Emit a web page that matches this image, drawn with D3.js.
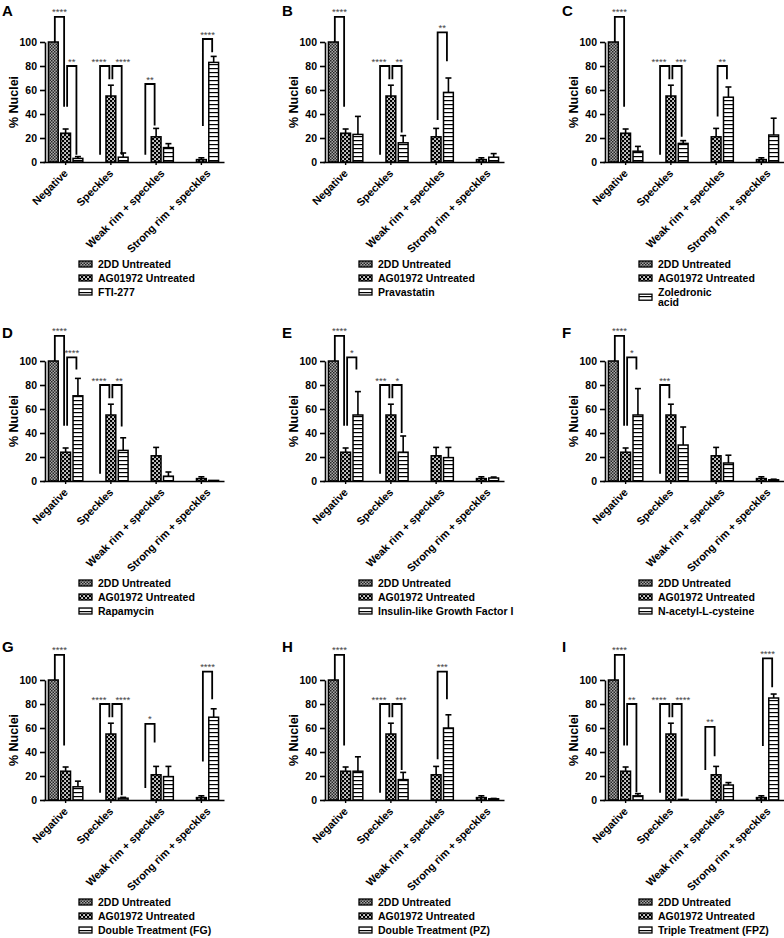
<!DOCTYPE html>
<html><head><meta charset="utf-8">
<script src="https://cdn.jsdelivr.net/npm/d3@7"></script>
<style>
body{margin:0;background:#fff}
text{font-family:"Liberation Sans",Arial,Helvetica,sans-serif;}
</style>
</head><body><script>
// ---------- data ----------
const categories = ["Negative","Speckles","Weak rim + speckles","Strong rim + speckles"];
const yTicks = [0,20,40,60,80,100];
const panelLetters = ["A","B","C","D","E","F","G","H","I"];
const seriesNames = ["2DD Untreated","AG01972 Untreated"];
const treatmentNames = ["FTI-277","Pravastatin","Zoledronic\nacid","Rapamycin","Insulin-like Growth Factor I","N-acetyl-L-cysteine","Double Treatment (FG)","Double Treatment (PZ)","Triple Treatment (FPZ)"];

const untreated2DD    = [100,0,0,0];
const untreated2DDErr = [0,0,0,0];
const untreatedAG     = [24,55,21,2];
const untreatedAGErr  = [3.5,9,7,1.5];

const fti277 = [3,4,12,83];          const fti277Err = [1.5,3.5,3.3,5];
const pravastatin = [23,16,58,4];    const pravastatinErr = [15,6,12,3];
const zoledronic = [9,15.5,54,22.5]; const zoledronicErr = [4,2.3,8.5,14];
const rapamycin = [71,25.5,4,0.5];   const rapamycinErr = [14.5,10.5,3.5,0];
const igf1 = [55,24,19.5,2.5];       const igf1Err = [19.5,13.5,8.5,0.8];
const nac = [55,30,15,1];            const nacErr = [22,15,6.5,0.5];
const doubleFG = [11,1.5,19.5,69];   const doubleFGErr = [4.7,0.7,8.5,7];
const doublePZ = [24,17,60,1];       const doublePZErr = [12,6,11,0.3];
const tripleFPZ = [3.5,0.5,12.5,85]; const tripleFPZErr = [1.8,0,2,3.3];

// significance brackets: [category, seriesA, seriesB, top, legA end, legB end, label]
const bracketsA = [[0,0,1,121,100,46,"****"],[0,1,2,80,46,6,"**"],[1,0,1,80,6,69,"****"],[1,1,2,80,69,6,"****"],[2,0,1,65,6,30.5,"**"],[3,1,2,102.5,30,91.5,"****"]];
const bracketsB = [[0,0,1,121,100,46,"****"],[1,0,1,80,6,69,"****"],[1,1,2,80,69,24.5,"**"],[2,1,2,108,35,84,"**"]];
const bracketsC = [[0,0,1,121,100,46,"****"],[1,0,1,80,6,69,"****"],[1,1,2,80,69,21,"***"],[2,1,2,80,38,69,"**"]];
const bracketsD = [[0,0,1,121,100,46,"****"],[0,1,2,103,46,93,"****"],[1,0,1,80,6,69,"****"],[1,1,2,80,69,45.5,"**"]];
const bracketsE = [[0,0,1,121,100,46,"****"],[0,1,2,103,46,93,"*"],[1,0,1,80,6,69,"***"],[1,1,2,80,69,40,"*"]];
const bracketsF = [[0,0,1,121,100,46,"****"],[0,1,2,103,46,93,"*"],[1,0,1,80,6,69,"***"]];
const bracketsG = [[0,0,1,121,100,45.5,"****"],[1,0,1,80,6,69,"****"],[1,1,2,80,69,4,"****"],[2,0,1,63.5,10,48,"*"],[3,1,2,107,32,84,"****"]];
const bracketsH = [[0,0,1,121,100,45.5,"****"],[1,0,1,80,6,69,"****"],[1,1,2,80,69,25,"***"],[2,1,2,107,34,84,"***"]];
const bracketsI = [[0,0,1,121,100,45.5,"****"],[0,1,2,80,45.5,6.5,"**"],[1,0,1,80,6,69,"****"],[1,1,2,80,69,3,"****"],[2,0,1,61,25,36.5,"**"],[3,1,2,118,45,94,"****"]];

const treatValues = [fti277,pravastatin,zoledronic,rapamycin,igf1,nac,doubleFG,doublePZ,tripleFPZ];
const treatErrors = [fti277Err,pravastatinErr,zoledronicErr,rapamycinErr,igf1Err,nacErr,doubleFGErr,doublePZErr,tripleFPZErr];
const panelBrackets = [bracketsA,bracketsB,bracketsC,bracketsD,bracketsE,bracketsF,bracketsG,bracketsH,bracketsI];

// ---------- layout ----------
const colX = [45, 325, 605];
const rowZero = [162, 481, 800];
const letterBase = [16, 338, 652];
const FONT = '"Liberation Sans",Arial,sans-serif';

const svg = d3.select("body").append("svg").attr("width",784).attr("height",938)
  .style("background","#fff");
svg.append("rect").attr("width",784).attr("height",938).attr("fill","#fff");

const defs = svg.append("defs");
const p0 = defs.append("pattern").attr("id","pat0").attr("patternUnits","userSpaceOnUse").attr("width",3).attr("height",3);
p0.append("rect").attr("width",3).attr("height",3).attr("fill","#a8a8a8");
p0.append("rect").attr("width",1.5).attr("height",1.5).attr("fill","#262626");
p0.append("rect").attr("x",1.5).attr("y",1.5).attr("width",1.5).attr("height",1.5).attr("fill","#262626");
const p1 = defs.append("pattern").attr("id","pat1").attr("patternUnits","userSpaceOnUse").attr("width",4).attr("height",4);
p1.append("rect").attr("width",4).attr("height",4).attr("fill","#000");
p1.append("rect").attr("x",0.2).attr("y",0.2).attr("width",1.7).attr("height",1.7).attr("fill","#fff");
p1.append("rect").attr("x",2.2).attr("y",2.2).attr("width",1.7).attr("height",1.7).attr("fill","#fff");
const p2 = defs.append("pattern").attr("id","pat2").attr("patternUnits","userSpaceOnUse").attr("width",4).attr("height",4);
p2.append("rect").attr("width",4).attr("height",4).attr("fill","#fff");
p2.append("rect").attr("y",0).attr("width",4).attr("height",1.2).attr("fill","#000");
const patFill = ["url(#pat0)","url(#pat1)","url(#pat2)"];

function drawPanel(pi){
  const col = pi % 3, row = Math.floor(pi/3);
  const ax = colX[col], zy = rowZero[row];
  const g = svg.append("g");
  const x = d3.scaleBand().domain(categories).range([ax-2, ax+179]);
  const sub = d3.scalePoint().domain([0,1,2]).range([-12.3, 12.3]);
  const y = d3.scaleLinear().domain([0,100]).range([zy, zy-120]);
  const vals = [untreated2DD, untreatedAG, treatValues[pi]];
  const errs = [untreated2DDErr, untreatedAGErr, treatErrors[pi]];
  const cx = (ci, si) => x(categories[ci]) + x.bandwidth()/2 + sub(si);
  const bw = 9.8;

  vals.forEach((arr, si) => arr.forEach((v, ci) => {
    const e = errs[si][ci];
    if (!(e > 0) || v <= 0) return;
    const c = cx(ci, si);
    g.append("line").attr("x1",c).attr("x2",c).attr("y1",y(v)).attr("y2",y(v+e))
      .attr("stroke","#000").attr("stroke-width",1.6);
    g.append("line").attr("x1",c-3).attr("x2",c+3).attr("y1",y(v+e)).attr("y2",y(v+e))
      .attr("stroke","#000").attr("stroke-width",1.6);
  }));
  vals.forEach((arr, si) => arr.forEach((v, ci) => {
    if (v <= 0) return;
    const c = cx(ci, si);
    g.append("rect").attr("x", c - bw/2).attr("y", y(v)).attr("width", bw)
      .attr("height", Math.max(0.01, y(0) - y(v)))
      .attr("fill", patFill[si]).attr("stroke","#000").attr("stroke-width",1.5);
  }));

  const ya = g.append("g").attr("transform",`translate(${ax},0)`)
    .call(d3.axisLeft(y).tickValues(yTicks).tickSize(5).tickSizeOuter(0).tickPadding(3));
  ya.select(".domain").attr("stroke-width",1.6);
  ya.selectAll(".tick line").attr("stroke-width",1.6);
  ya.selectAll("text").attr("font-family",FONT).attr("font-weight","bold").attr("font-size",10.5).attr("fill","#000");

  const xa = g.append("g").attr("transform",`translate(0,${zy})`)
    .call(d3.axisBottom(x).tickSize(3).tickSizeOuter(0));
  xa.select(".domain").attr("stroke-width",1.6);
  xa.selectAll(".tick line").attr("stroke-width",1.4);
  xa.selectAll("text").attr("font-family",FONT).attr("font-weight","bold").attr("font-size",10.8).attr("fill","#000")
    .attr("text-anchor","end").attr("x",0).attr("y",0).attr("dy",0)
    .each(function(){
      const L = this.getComputedTextLength();
      const dx = 0.1*L - 1.5;
      d3.select(this).attr("transform",`translate(${dx},12) rotate(-45)`);
    });

  g.append("text").attr("transform",`translate(${ax-27},${zy-60}) rotate(-90)`)
    .attr("text-anchor","middle").attr("font-family",FONT).attr("font-weight","bold").attr("font-size",12.5)
    .text("% Nuclei");

  g.append("text").attr("x", ax-43).attr("y", letterBase[row])
    .attr("font-family",FONT).attr("font-weight","bold").attr("font-size",15).text(panelLetters[pi]);

  const br = panelBrackets[pi];
  br.forEach(b => {
    const [ci, a, bb, top, la, lb, lab] = b;
    const x1 = cx(ci, a) + 1.5, x2 = cx(ci, bb) - 1.5;
    g.append("path").attr("d", `M${x1},${y(la)}V${y(top)}H${x2}V${y(lb)}`)
      .attr("fill","none").attr("stroke","#000").attr("stroke-width",1.8);
    const rightNeighbour = br.some(o => o !== b && o[0] === ci && o[3] === top && o[1] === bb);
    const leftNeighbour  = br.some(o => o !== b && o[0] === ci && o[3] === top && o[2] === a);
    let tx = (x1+x2)/2, anchor = "middle";
    if (rightNeighbour) { tx = cx(ci, bb) - 4.5; anchor = "end"; }
    else if (leftNeighbour) { tx = cx(ci, a) + 4.5; anchor = "start"; }
    g.append("text").attr("x",tx).attr("y", y(top)-1.5).attr("text-anchor",anchor)
      .attr("font-family",FONT).attr("font-size",9.5).attr("fill","#444").text(lab);
  });

  const names = [seriesNames[0], seriesNames[1], treatmentNames[pi]];
  const lg = g.append("g").attr("transform",`translate(${ax+34},${zy+102})`);
  names.forEach((nm, i) => {
    const lines = nm.split("\n");
    const yc = 14*i + (lines.length-1)*10.4/2;
    lg.append("rect").attr("x",0).attr("y",yc-3).attr("width",13).attr("height",6)
      .attr("fill",patFill[i]).attr("stroke","#000").attr("stroke-width",1.3);
    lines.forEach((ln, k) => {
      lg.append("text").attr("x",19).attr("y",14*i + k*10.4).attr("dy","0.36em")
        .attr("font-family",FONT).attr("font-weight","bold").attr("font-size",10.5).text(ln);
    });
  });
}

for (let i = 0; i < 9; i++) drawPanel(i);
</script></body></html>
